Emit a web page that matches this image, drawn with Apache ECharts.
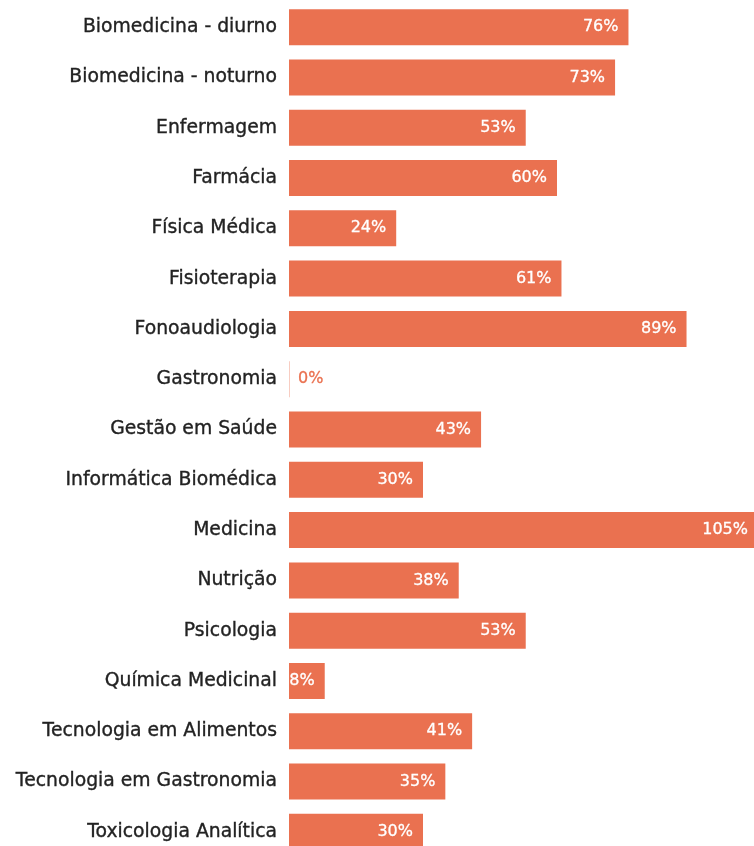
<!DOCTYPE html>
<html><head><meta charset="utf-8">
<script src="https://cdn.jsdelivr.net/npm/echarts@6/dist/echarts.min.js"></script>
<style>html,body{margin:0;padding:0;background:#fff}#c{width:754px;height:846px}</style>
</head><body><div id="c"></div>
<script>
const categories = ["Biomedicina - diurno","Biomedicina - noturno","Enfermagem","Farmácia","Física Médica","Fisioterapia","Fonoaudiologia","Gastronomia","Gestão em Saúde","Informática Biomédica","Medicina","Nutrição","Psicologia","Química Medicinal","Tecnologia em Alimentos","Tecnologia em Gastronomia","Toxicologia Analítica"];
const values = [76,73,53,60,24,61,89,0,43,30,105,38,53,8,41,35,30];
const color = '#EA7150';
const font = 'DejaVu Sans';
const chart = echarts.init(document.getElementById('c'), null, {renderer:'canvas'});
const data = values.map(v => v === 0 ? {
  value: v, itemStyle:{color:'rgba(234,113,80,0.35)'},
  label:{position:'right', color: color, distance: 8, textBorderColor: color}
} : {value: v});
chart.setOption({
  animation:false,
  grid:{left:289, top:2, width:469, height:855, containLabel:false, outerBoundsMode:'none'},
  xAxis:{type:'value', min:0, max:105, show:false},
  yAxis:{type:'category', data:categories, inverse:true,
    axisLine:{show:false}, axisTick:{show:false},
    axisLabel:{color:'#222', fontSize:18.8, fontFamily:font, fontWeight:'normal', margin:12,
      textBorderColor:'#222', textBorderWidth:0.35}},
  series:[{type:'bar', data:data, barWidth:36, barMinHeight:1,
    itemStyle:{color:color},
    label:{show:true, position:'insideRight', distance:10, color:'#fff', fontSize:16,
      fontFamily:font, fontWeight:'normal', textBorderColor:'#fff', textBorderWidth:0.3,
      formatter:p=>p.value+'%'}}]
});
</script></body></html>
